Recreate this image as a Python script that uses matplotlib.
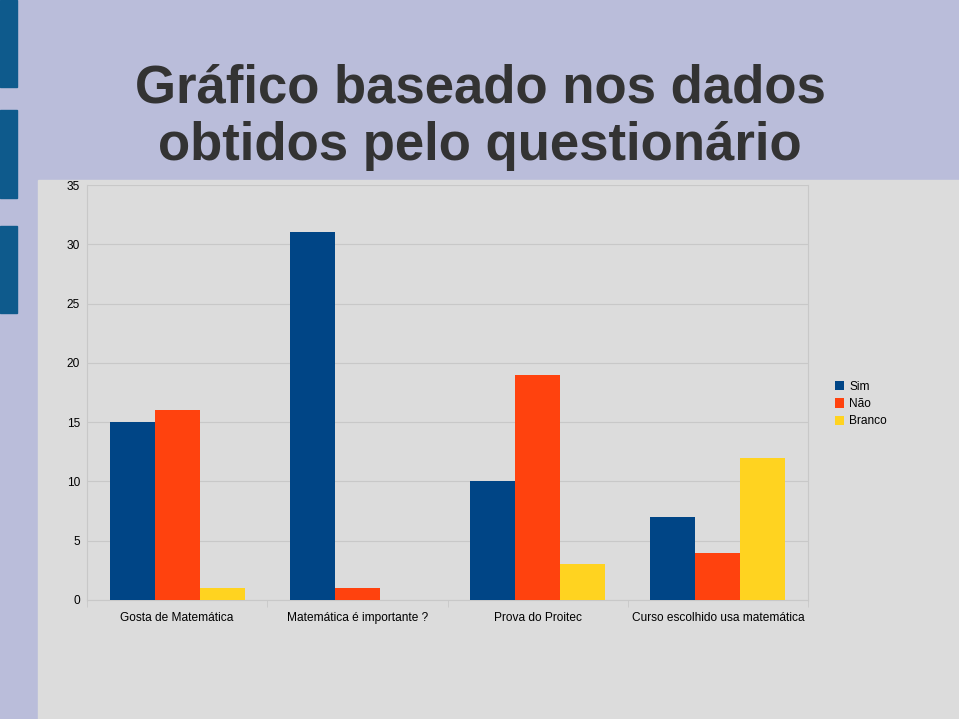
import matplotlib.pyplot as plt
from matplotlib.patches import Rectangle
import numpy as np

# Data
categories = ["Gosta de Matemática", "Matemática é importante ?",
              "Prova do Proitec", "Curso escolhido usa matemática"]
sim = [15, 31, 10, 7]
nao = [16, 1, 19, 4]
branco = [1, 0, 3, 12]
series_names = ["Sim", "Não", "Branco"]
colors = ["#004586", "#ff420e", "#ffd320"]

W, H = 959, 719
fig = plt.figure(figsize=(W / 100, H / 100), dpi=100)
fig.patch.set_facecolor("#babdda")
plt.rcParams['font.family'] = ['Liberation Sans', 'DejaVu Sans']

# slide decoration: gray content panel and blue side blocks
fig.add_artist(Rectangle((38 / W, 0), 1 - 38 / W, (H - 180) / H,
                         transform=fig.transFigure, color="#dcdcdc", zorder=0))
for y0, y1 in [(0, 87), (110, 198), (226, 313)]:
    fig.add_artist(Rectangle((0, 1 - y1 / H), 17 / W, (y1 - y0) / H,
                             transform=fig.transFigure, color="#0e5a8c", zorder=0))

fig.text(480 / W, 1 - 117 / H, "Gráfico baseado nos dados\nobtidos pelo questionário",
         ha="center", va="center", fontsize=38, fontweight="bold",
         color="#333333", linespacing=1.2)

ax = fig.add_axes([87 / W, (H - 600) / H, (808 - 87) / W, (600 - 185) / H])
ax.set_facecolor("#dcdcdc")

x = np.arange(len(categories))
bw = 0.25
for i, (vals, name, c) in enumerate(zip([sim, nao, branco], series_names, colors)):
    ax.bar(x + (i - 1) * bw, vals, width=bw, color=c, label=name, zorder=3)

ax.set_xlim(-0.5, 3.5)
ax.set_ylim(0, 35)
ax.set_yticks(range(0, 36, 5))
ax.set_xticks(x)
ax.set_xticklabels(categories, fontsize=8.6)
for lbl in ax.get_xticklabels():
    lbl.set_verticalalignment("baseline")
ax.set_xticks(np.arange(-0.5, 4, 1), minor=True)
ax.tick_params(axis="x", which="major", length=0, pad=15)
ax.tick_params(axis="x", which="minor", length=5, color="#c8c8c8")
ax.tick_params(axis="y", length=0, labelsize=8.6, pad=5)
ax.grid(axis="y", color="#c8c8c8", linewidth=0.8, zorder=0)
for s in ax.spines.values():
    s.set_color("#c8c8c8")
    s.set_linewidth(0.8)
ax.spines["top"].set_visible(False)

ax.legend(loc="center left", bbox_to_anchor=(1.037, 0.472), frameon=False,
          fontsize=8.6, handlelength=0.8, handleheight=0.8, handletextpad=0.4,
          labelspacing=0.45, borderaxespad=0, borderpad=0)

fig.savefig("out.png", dpi=100, facecolor=fig.get_facecolor())
